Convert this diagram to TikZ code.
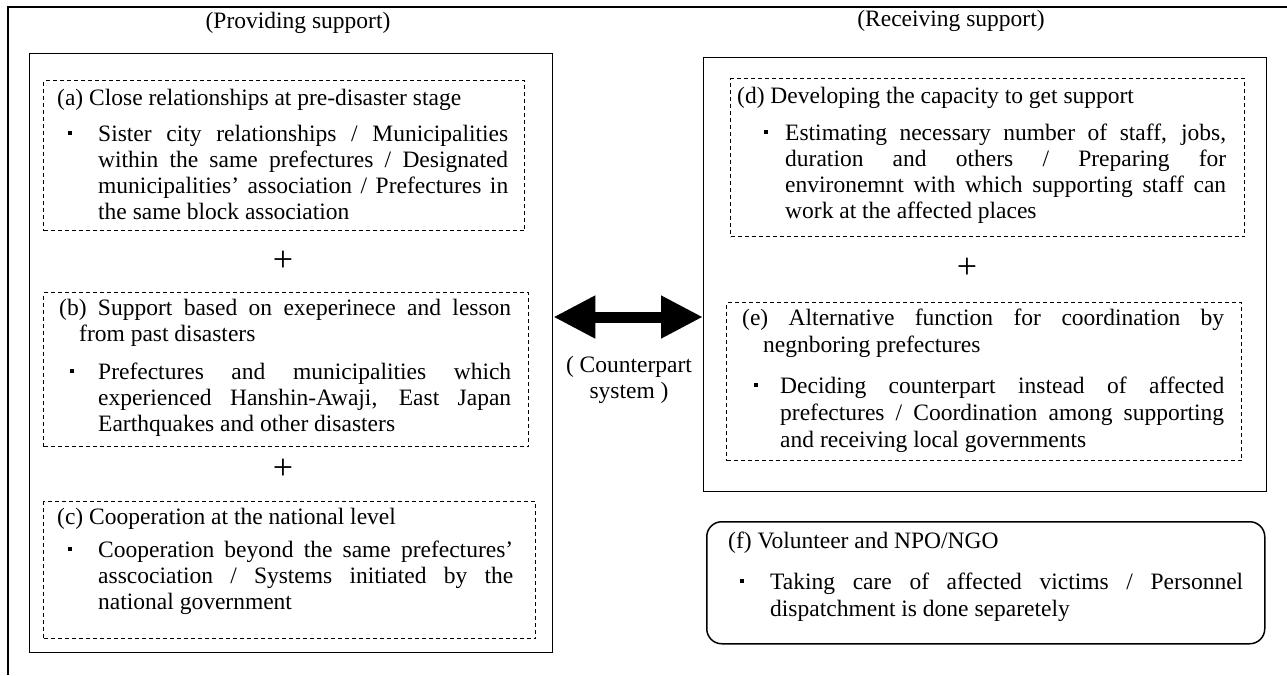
\documentclass[tikz,border=0pt]{standalone}
\usepackage{fontspec}
\setmainfont{Liberation Serif}
\usetikzlibrary{arrows.meta,positioning,calc}
\setlength{\parindent}{0pt}
\tolerance=10000
\hyphenpenalty=10000
\exhyphenpenalty=10000
% bullet paragraph: gap, left indent, dot box
\newcommand{\bul}[3]{\par\vspace{#1}\leftskip=#2\noindent\llap{\makebox[#3][l]{\raisebox{6.5pt}{\rule{3.6pt}{3.6pt}}}}}

\begin{document}
\begin{tikzpicture}[x=1pt,y=-1pt,font=\fontsize{23.5}{26}\selectfont,
  frame/.style={draw,line width=1.3pt,anchor=north west,inner sep=0pt},
  part/.style={draw,line width=1pt,dash pattern=on 4pt off 3pt,anchor=north west,inner sep=0pt},
  txt/.style={anchor=base west,inner sep=0pt,align=justify},
  wide/.style={font=\fontsize{23.5}{27}\selectfont},
  plus/.style={inner sep=0pt,font=\fontsize{36}{36}\selectfont},
  dbl/.style={line width=11pt,{Triangle[length=42pt,width=40pt]}-{Triangle[length=42pt,width=40pt]}}]
\useasboundingbox (0,0) rectangle (1287,675);
\draw[line width=2pt] (8,675) -- (8,7) -- (1287,7);

% the two sides
\node[anchor=base,inner sep=0pt] (provlbl) at (298,28) {(Providing support)};
\node[anchor=base,inner sep=0pt] (recvlbl) at (951,26) {(Receiving support)};
\node[frame,minimum width=523pt,minimum height=599pt] (provide) at (29,53) {};
\node[frame,minimum width=563pt,minimum height=434pt] (receive) at (703,57) {};

% dashed parts
\node[part,minimum width=481pt,minimum height=150pt] (boxa) at (43,80) {};
\node[part,minimum width=485pt,minimum height=154pt] (boxb) at (43,292) {};
\node[part,minimum width=492pt,minimum height=137pt] (boxc) at (43,501) {};
\node[part,minimum width=514pt,minimum height=158pt] (boxd) at (730,78) {};
\node[part,minimum width=515pt,minimum height=158pt] (boxe) at (726,302) {};
\node[frame,line width=1.5pt,rounded corners=15pt,minimum width=558pt,minimum height=122pt] (boxf) at (706,521) {};

\node[txt,text width=451pt] (ta) at (57,105) {(a) Close relationships at pre-disaster stage\bul{10pt}{41pt}{30pt}Sister city relationships / Municipalities\linebreak
  within the same prefectures / Designated\linebreak
  municipalities’ association / Prefectures in\linebreak
  the same block association\par};
\node[txt,text width=452pt] (tb) at (59,315) {\hangindent=20pt\hangafter=1 (b) Support based on exeperinece and lesson\linebreak
  from past disasters\bul{12pt}{39pt}{28pt}Prefectures and municipalities which\linebreak
  experienced Hanshin-Awaji, East Japan\linebreak
  Earthquakes and other disasters\par};
\node[txt,text width=456pt] (tc) at (57,524) {(c) Cooperation at the national level\bul{7pt}{41pt}{30pt}Cooperation beyond the same prefectures’\linebreak
  asscociation / Systems initiated by the\linebreak
  national government\par};
\node[txt,text width=489pt] (td) at (737,103) {(d) Developing the capacity to get support\bul{11pt}{48pt}{21pt}Estimating necessary number of staff, jobs,\linebreak
  duration and others / Preparing for\linebreak
  environemnt with which supporting staff can\linebreak
  work at the affected places\par};
\node[txt,wide,text width=482pt] (te) at (742,325) {\hangindent=21pt\hangafter=1 (e) Alternative function for coordination by\linebreak
  negnboring prefectures\bul{14pt}{38pt}{26pt}Deciding counterpart instead of affected\linebreak
  prefectures / Coordination among supporting\linebreak
  and receiving local governments\par};
\node[txt,wide,text width=515pt] (tf) at (728,548) {(f) Volunteer and NPO/NGO\bul{14pt}{42pt}{30pt}Taking care of affected victims / Personnel\linebreak
  dispatchment is done separetely\par};

\foreach \n/\x/\y in {pab/283/261,pbc/283/469,pde/967/268}
  \node[plus] (\n) at (\x,\y) {+};

% counterpart link
\coordinate (mid) at (628,317);
\draw[dbl] (provide.east |- mid) -- (receive.west |- mid);
\node[align=center,inner sep=0pt] (cps) at (629,380) {( Counterpart\\system )};
\end{tikzpicture}
\end{document}
